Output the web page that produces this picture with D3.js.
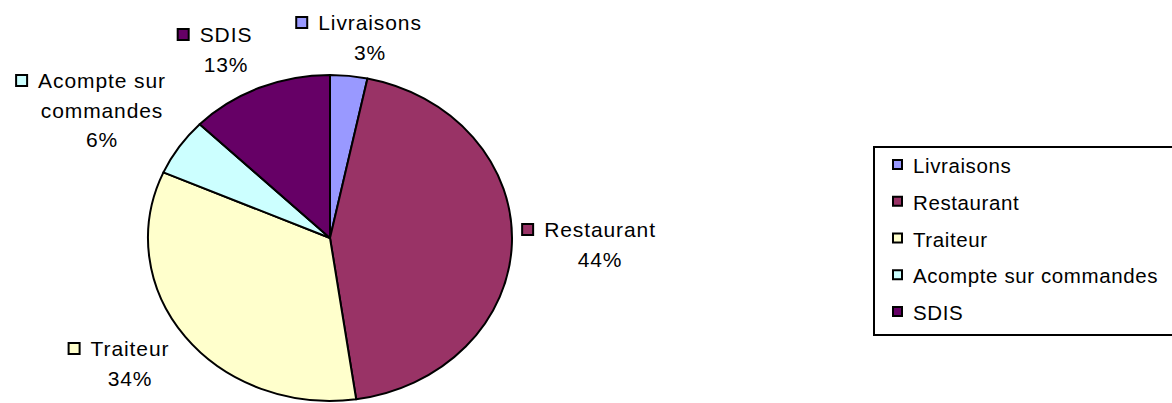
<!DOCTYPE html>
<html>
<head>
<meta charset="utf-8">
<script src="https://cdn.jsdelivr.net/npm/d3@7"></script>
<style>
  html, body { margin: 0; padding: 0; background: #fff; }
  svg { display: block; }
  text { font-family: "Liberation Sans", Arial, sans-serif; fill: #000; }
</style>
</head>
<body>
<div id="chart"></div>
<script>
// Répartition du chiffre d'affaires (%)
const categories = ['Livraisons', 'Restaurant', 'Traiteur', 'Acompte sur commandes', 'SDIS'];
const values = [3.3, 44.4, 33.9, 5.7, 12.7];
const colors = ['#9999FF', '#993366', '#FFFFCC', '#CCFFFF', '#660066'];
// lignes des étiquettes (Excel coupe le libellé long)
const labelLines = [['Livraisons'], ['Restaurant'], ['Traiteur'], ['Acompte sur', 'commandes'], ['SDIS']];

const width = 1172, height = 403;
const cx = 330, cy = 238, rx = 182, ry = 163;

// position (centre x, 1re ligne y) des étiquettes de données
const labelPos = [[370, 30], [600, 237], [130, 356], [102, 88], [226, 42]];

const svg = d3.select('#chart').append('svg')
    .attr('width', width)
    .attr('height', height);

const pie = d3.pie().sort(null).value(d => d);
const arcs = pie(values);
const arc = d3.arc().innerRadius(0).outerRadius(rx);

const g = svg.append('g')
    .attr('transform', `translate(${cx},${cy}) scale(1,${ry / rx})`);

g.selectAll('path')
    .data(arcs)
    .enter()
    .append('path')
    .attr('d', arc)
    .attr('fill', (d, i) => colors[i])
    .attr('stroke', '#000')
    .attr('stroke-width', 2)
    .attr('stroke-linejoin', 'round')
    .attr('vector-effect', 'non-scaling-stroke');

// data labels
const pct = d3.format('.0f');
const lineH = 29.5;
const labels = svg.selectAll('.lbl')
    .data(arcs)
    .enter()
    .append('g')
    .attr('class', 'lbl')
    .attr('transform', (d, i) => `translate(${labelPos[i][0]},${labelPos[i][1]})`);

labels.each(function(d, i) {
    const sel = d3.select(this);
    const lines = labelLines[i].concat([pct(d.value) + '%']);
    lines.forEach((l, k) => {
        sel.append('text')
            .attr('x', 0)
            .attr('y', k * lineH)
            .attr('text-anchor', 'middle')
            .attr('font-size', '21px')
            .attr('letter-spacing', '0.9px')
            .text(l);
    });
    const w = sel.select('text').node().getComputedTextLength();
    sel.append('rect')
        .attr('x', -w / 2 - 22)
        .attr('y', -13)
        .attr('width', 11)
        .attr('height', 11)
        .attr('fill', colors[i])
        .attr('stroke', '#000')
        .attr('stroke-width', 2);
});

// legend
const legX = 874, legY = 147;
const legend = svg.append('g');
legend.append('rect')
    .attr('x', legX)
    .attr('y', legY)
    .attr('width', 340)
    .attr('height', 188)
    .attr('fill', '#fff')
    .attr('stroke', '#000')
    .attr('stroke-width', 2);

const ly = d3.scalePoint()
    .domain(categories)
    .range([173, 320]);

const items = legend.selectAll('.item')
    .data(categories)
    .enter()
    .append('g')
    .attr('class', 'item')
    .attr('transform', d => `translate(0,${ly(d)})`);

items.append('rect')
    .attr('x', 893)
    .attr('y', -13)
    .attr('width', 9)
    .attr('height', 9)
    .attr('fill', (d, i) => colors[i])
    .attr('stroke', '#000')
    .attr('stroke-width', 2);

items.append('text')
    .attr('x', 913)
    .attr('y', 0)
    .attr('font-size', '20.5px')
    .attr('letter-spacing', '0.6px')
    .text(d => d);
</script>
</body>
</html>
